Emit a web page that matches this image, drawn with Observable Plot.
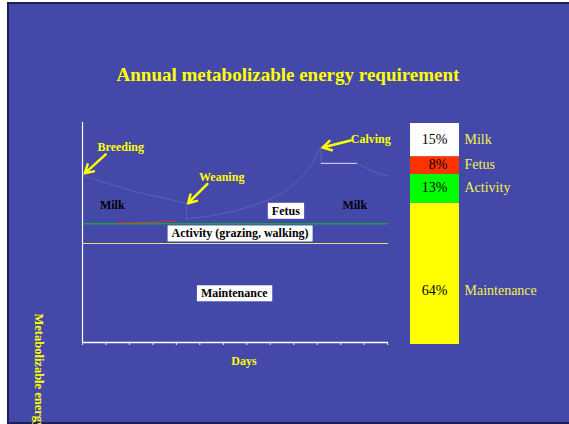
<!DOCTYPE html>
<html>
<head>
<meta charset="utf-8">
<script src="https://cdn.jsdelivr.net/npm/d3@7"></script>
<script src="https://cdn.jsdelivr.net/npm/@observablehq/plot@0.6"></script>
<style>
  html, body { margin: 0; padding: 0; background: #fff; width: 569px; height: 424px; overflow: hidden; position: relative; }
  #slide { position: absolute; left: 7px; top: 2px; width: 562px; height: 422px; box-sizing: border-box;
           background: #4449a9; border-left: 2px solid #1d1f55; border-top: 2px solid #1d1f55; border-bottom: 2px solid #1d1f55; }
  #title { position: absolute; left: 0; top: 64px; width: 576px; text-align: center; line-height: 22px;
           font: bold 19px "Liberation Serif", "Times New Roman", serif; color: #ffff00; }
  .layer { position: absolute; left: 0; top: 0; }
</style>
</head>
<body>
<div id="slide"></div>
<div id="title">Annual metabolizable energy requirement</div>
<div id="timeline" class="layer"></div>
<div id="shares" class="layer"></div>
<script>
// ---- Yearly timeline (days after breeding vs. energy, arbitrary units) ----
const tickDays = d3.range(0, 365, 28);
const maintenance = 45;          // flat maintenance requirement
const activity = 9;              // grazing & walking on top of maintenance

// total requirement trace, split into segments
const segment = ["lactation", "lactation", "lactation", "lactation",
                 "weaning", "weaning",
                 "gestation", "gestation", "gestation", "gestation", "gestation", "gestation",
                 "calving", "calving",
                 "late", "late", "late"];
const traceDay = [0, 58, 117, 124,
                  124, 124,
                  124, 156, 197, 237, 268, 284,
                  284, 285,
                  327, 350, 365];
const traceME  = [76, 69.1, 63.8, 63,
                  63, 56.2,
                  56.2, 57.7, 61.5, 67.7, 78.2, 88.8,
                  88.8, 81.4,
                  81.4, 77.3, 75.5];
const peakDay = [285, 327];
const peakME  = [81.4, 81.4];
const fetusDay = [40, 112];
const fetusME  = [54.2, 55.1];

const events = ["Breeding", "Weaning", "Calving"];
const eventTextDay = [18, 139, 320];
const eventTextME  = [88.6, 75, 92.3];
const arrowFrom = [[27.7, 85.5], [149, 72.1], [319.8, 91.8]];
const arrowTo   = [[2.7, 76.9], [126, 63.3], [286.4, 88.6]];

const partNames = ["Milk", "Milk", "Fetus", "Activity (grazing, walking)", "Maintenance"];
const partDay   = [35.5, 324.7, 242.5, 188, 181];
const partME    = [62.3, 62.3, 59.8, 49.5, 22.3];
const boxedParts = new Set(["Fetus", "Activity (grazing, walking)", "Maintenance"]);

// ---- Share of the annual requirement ----
const components = ["Milk", "Fetus", "Activity", "Maintenance"];
const shares = [15, 8, 13, 64];
const colors = ["#ffffff", "#ff3300", "#00ff00", "#ffff00"];

const trace = traceDay.map((d, i) => ({day: d, me: traceME[i], seg: segment[i]}));
const peak = peakDay.map((d, i) => ({day: d, me: peakME[i]}));
const fetus = fetusDay.map((d, i) => ({day: d, me: fetusME[i]}));
const eventLabels = events.map((e, i) => ({name: e, day: eventTextDay[i], me: eventTextME[i]}));
const arrows = events.map((e, i) => ({x1: arrowFrom[i][0], y1: arrowFrom[i][1], x2: arrowTo[i][0], y2: arrowTo[i][1]}));
const parts = partNames.map((p, i) => ({name: p, day: partDay[i], me: partME[i]}));

const serif = "'Liberation Serif', 'Times New Roman', serif";

const timeline = Plot.plot({
  width: 569, height: 424,
  marginLeft: 82, marginRight: 181, marginTop: 122, marginBottom: 82,
  style: {background: "transparent", color: "#e8e8f0", fontFamily: serif, overflow: "visible"},
  x: {domain: [0, 365], ticks: tickDays, tickSize: 3, tickFormat: () => "", label: null},
  y: {domain: [0, 100], axis: null},
  marks: [
    Plot.ruleY([maintenance], {stroke: "#e4df78", strokeWidth: 1.2}),
    Plot.ruleY([maintenance + activity], {stroke: "#1f9e3c", strokeWidth: 1.6}),
    Plot.line(fetus, {x: "day", y: "me", stroke: "#ff2a2a", strokeWidth: 1, strokeDasharray: "1.5,1.5"}),
    Plot.line(trace, {x: "day", y: "me", z: "seg", curve: "catmull-rom", stroke: "white", strokeOpacity: 0.16, strokeWidth: 0.8}),
    Plot.line(peak, {x: "day", y: "me", stroke: "white", strokeOpacity: 0.75, strokeWidth: 1.2, strokeDasharray: "1.2,1.2"}),
    Plot.ruleY([0], {stroke: "white", strokeWidth: 1.5}),
    Plot.ruleX([0], {stroke: "white", strokeWidth: 1.2}),
    Plot.arrow(arrows, {x1: "x1", y1: "y1", x2: "x2", y2: "y2", stroke: "#ffff00", strokeWidth: 2.5, headLength: 9}),
    Plot.text(eventLabels, {x: "day", y: "me", text: "name", textAnchor: "start", fill: "#ffff00",
                            fontWeight: "bold", fontSize: 12}),
    Plot.text(parts, {x: "day", y: "me", text: "name", fill: "black", fontWeight: "bold", fontSize: 12}),
    Plot.text(["Days"], {x: 192.5, frameAnchor: "bottom", dy: 22, fill: "#ffff00", fontWeight: "bold", fontSize: 12}),
    Plot.text(["Metabolizable energy"], {frameAnchor: "left", y: 13.2, dx: -44, rotate: 90, textAnchor: "start",
                                         lineAnchor: "middle", fill: "#ffff00", fontWeight: "bold", fontSize: 12.5})
  ]
});
document.getElementById("timeline").append(timeline);

// white label boxes behind the component names
timeline.querySelectorAll("text").forEach(t => {
  if (!boxedParts.has(t.textContent)) return;
  const b = t.getBBox();
  const r = document.createElementNS("http://www.w3.org/2000/svg", "rect");
  r.setAttribute("x", b.x - 4);
  r.setAttribute("y", b.y - 1);
  r.setAttribute("width", b.width + 8);
  r.setAttribute("height", b.height + 2);
  r.setAttribute("fill", "white");
  r.setAttribute("stroke", "none");
  if (t.getAttribute("transform")) r.setAttribute("transform", t.getAttribute("transform"));
  t.parentNode.insertBefore(r, t);
});

// ---- stacked share bar ----
const table = components.map((c, i) => ({part: c, share: shares[i], color: colors[i], bar: "Annual"})).reverse();

const bar = Plot.plot({
  width: 569, height: 424,
  marginLeft: 410, marginRight: 110, marginTop: 123, marginBottom: 80,
  style: {background: "transparent", fontFamily: serif, overflow: "visible"},
  x: {domain: ["Annual"], padding: 0, axis: null},
  y: {domain: [0, 100], axis: null},
  marks: [
    Plot.barY(table, Plot.stackY({x: "bar", y: "share", fill: "color"})),
    Plot.text(table, Plot.stackY({x: "bar", y: "share",
      text: d => d.part === "Maintenance" ? null : d.share + "%",
      textAnchor: "end", dx: 12.5, dy: -1, fill: "black", fontSize: 14})),
    Plot.text(table, Plot.stackY({x: "bar", y: "share",
      text: d => d.part === "Maintenance" ? d.share + "%" : null,
      textAnchor: "end", dx: 12.5, dy: 16.5, fill: "black", fontSize: 14})),
    Plot.text(table, Plot.stackY({x: "bar", y: "share",
      text: d => d.part === "Maintenance" ? null : d.part,
      textAnchor: "start", dx: 29.5, dy: -1, fill: "#f5f04a", fontSize: 14})),
    Plot.text(table, Plot.stackY({x: "bar", y: "share",
      text: d => d.part === "Maintenance" ? d.part : null,
      textAnchor: "start", dx: 29.5, dy: 16.5, fill: "#f5f04a", fontSize: 14}))
  ]
});
document.getElementById("shares").append(bar);
</script>
</body>
</html>
